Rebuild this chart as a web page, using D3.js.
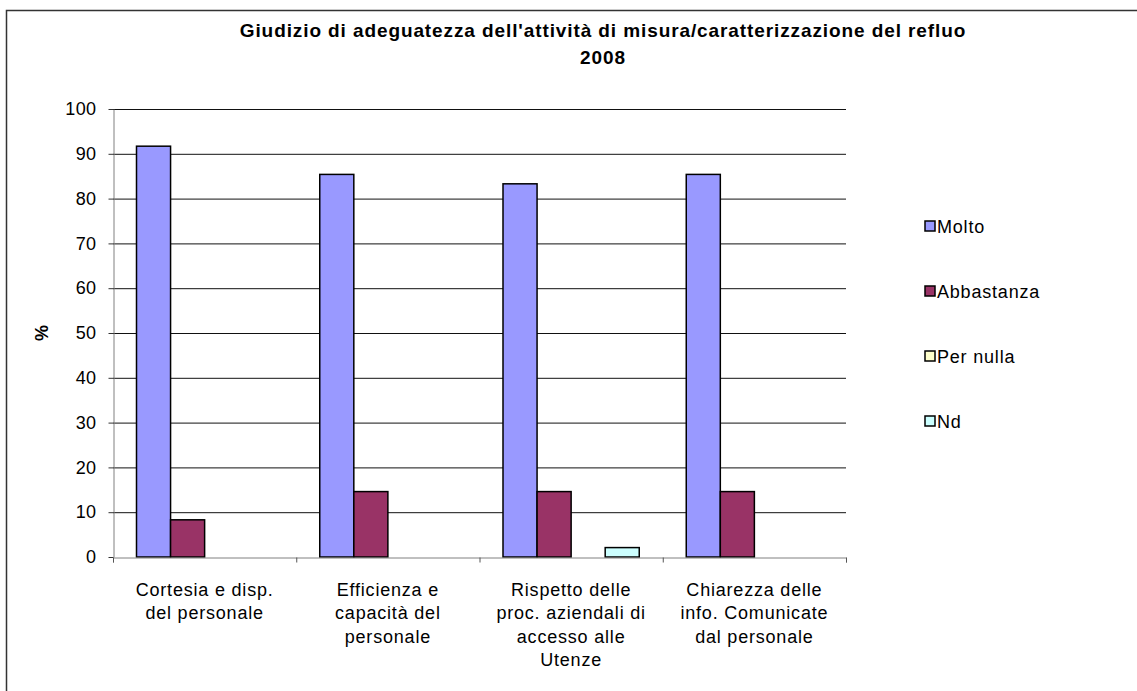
<!DOCTYPE html>
<html>
<head>
<meta charset="utf-8">
<script src="https://cdn.jsdelivr.net/npm/d3@7"></script>
<style>
  body { margin: 0; background: #fff; }
  text { font-family: "Liberation Sans", Arial, sans-serif; fill: #000; }
</style>
</head>
<body>
<svg width="1137" height="691"></svg>
<script>
// chart data
let categories = [
  ["Cortesia e disp.", "del personale"],
  ["Efficienza e", "capacità del", "personale"],
  ["Rispetto delle", "proc. aziendali di", "accesso alle", "Utenze"],
  ["Chiarezza delle", "info. Comunicate", "dal personale"]
];
let seriesNames = ["Molto", "Abbastanza", "Per nulla", "Nd"];
let seriesColors = ["#9999FF", "#993366", "#FFFFCC", "#CCFFFF"];
let molto = [91.7, 85.4, 83.3, 85.4];
let abbastanza = [8.3, 14.6, 14.6, 14.6];
let perNulla = [0, 0, 0, 0];
let nd = [0, 0, 2.1, 0];
let yTicks = [0, 10, 20, 30, 40, 50, 60, 70, 80, 90, 100];
let titleLines = ["Giudizio di adeguatezza dell'attività di misura/caratterizzazione del refluo", "2008"];

let values = [molto, abbastanza, perNulla, nd];
let svg = d3.select('svg');

// outer frame
svg.append('rect')
  .attr('x', 6.5).attr('y', 10.5)
  .attr('width', 1140).attr('height', 700)
  .attr('fill', 'none').attr('stroke', '#333').attr('stroke-width', 1.5);

let plotLeft = 113, plotRight = 846, plotTop = 109, plotBottom = 557;

let x = d3.scaleBand().domain(d3.range(categories.length)).range([plotLeft, plotRight]).padding(0);
let inner = d3.scaleBand().domain(d3.range(seriesNames.length))
  .range([0, x.bandwidth()]).paddingInner(0).paddingOuter(0.69);
let y = d3.scaleLinear().domain([0, 100]).range([plotBottom, plotTop]);

// gridlines
svg.append('g').selectAll('line')
  .data(yTicks.filter(d => d > 0))
  .join('line')
  .attr('x1', plotLeft).attr('x2', plotRight)
  .attr('y1', d => y(d) + 0.5).attr('y2', d => y(d) + 0.5)
  .attr('stroke', '#111').attr('stroke-width', 1);

// y axis
let yAxis = svg.append('g')
  .attr('transform', `translate(${plotLeft + 0.5},0)`)
  .call(d3.axisLeft(y).tickValues(yTicks).tickSize(5).tickPadding(12).tickSizeOuter(0));
yAxis.select('.domain').attr('stroke', '#808080');
yAxis.selectAll('.tick line').attr('stroke', '#333');
yAxis.selectAll('.tick text').attr('font-size', 18).attr('letter-spacing', 0.4)
  .attr('font-family', '"Liberation Sans", Arial, sans-serif').attr('fill', '#000');

// bars
let groups = svg.append('g').selectAll('g')
  .data(values)
  .join('g')
  .attr('fill', (d, i) => seriesColors[i]);
groups.selectAll('rect')
  .data((d, si) => d.map((v, ci) => ({ v, ci, si })).filter(e => e.v > 0))
  .join('rect')
  .attr('x', d => x(d.ci) + inner(d.si))
  .attr('width', inner.bandwidth())
  .attr('y', d => y(d.v))
  .attr('height', d => y(0) - y(d.v))
  .attr('stroke', '#000').attr('stroke-width', 1.5);

// x axis
let xAxis = svg.append('g')
  .attr('transform', `translate(0,${plotBottom + 0.5})`)
  .call(d3.axisBottom(d3.scaleLinear().domain([0, categories.length]).range([plotLeft, plotRight]))
    .tickValues(d3.range(categories.length + 1)).tickSize(5).tickFormat(''));
xAxis.select('.domain').attr('stroke', '#808080');
xAxis.selectAll('.tick line').attr('stroke', '#555');

// category labels
let catLabels = svg.append('g').selectAll('text')
  .data(categories)
  .join('text')
  .attr('text-anchor', 'middle')
  .attr('font-size', 18).attr('letter-spacing', 0.8)
  .attr('x', (d, i) => x(i) + x.bandwidth() / 2)
  .attr('y', 596);
catLabels.selectAll('tspan')
  .data(d => d)
  .join('tspan')
  .attr('x', function () { return d3.select(this.parentNode).attr('x'); })
  .attr('dy', (d, i) => i === 0 ? 0 : 23.3)
  .text(d => d);

// y axis title
svg.append('text')
  .attr('transform', 'translate(48,333) rotate(-90)')
  .attr('text-anchor', 'middle')
  .attr('font-size', 18).attr('font-weight', 'bold')
  .text('%');

// title
svg.append('text')
  .attr('text-anchor', 'middle')
  .attr('font-size', 19).attr('font-weight', 'bold').attr('letter-spacing', 0.9)
  .selectAll('tspan')
  .data(titleLines)
  .join('tspan')
  .attr('x', 603)
  .attr('y', (d, i) => 37 + i * 27)
  .text(d => d);

// legend
let legend = svg.append('g').selectAll('g')
  .data(seriesNames)
  .join('g')
  .attr('transform', (d, i) => `translate(925,${226 + i * 65})`);
legend.append('rect')
  .attr('x', 0).attr('y', -5)
  .attr('width', 10).attr('height', 10)
  .attr('fill', (d, i) => seriesColors[i])
  .attr('stroke', '#000').attr('stroke-width', 1.5);
legend.append('text')
  .attr('x', 12).attr('y', 6.5)
  .attr('font-size', 18).attr('letter-spacing', 0.8)
  .text(d => d);
</script>
</body>
</html>
